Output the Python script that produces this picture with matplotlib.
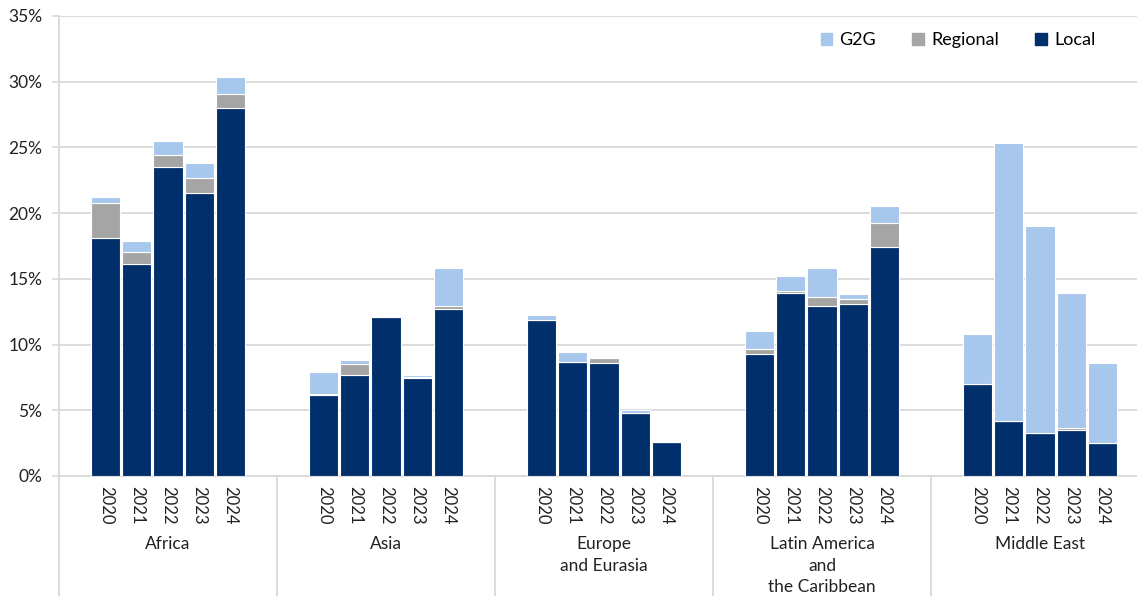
import matplotlib
matplotlib.use("Agg")
import matplotlib.pyplot as plt
from matplotlib.patches import Patch
import matplotlib.transforms as mtransforms

plt.rcParams['font.family'] = ['Lato', 'DejaVu Sans']

regions = ["Africa", "Asia", "Europe\nand Eurasia", "Latin America\nand\nthe Caribbean", "Middle East"]
years = ["2020", "2021", "2022", "2023", "2024"]

# Shares in percent, one row per region, one value per year
local = [
    [18.1, 16.1, 23.5, 21.5, 28.0],
    [6.15, 7.7, 12.1, 7.45, 12.7],
    [11.85, 8.65, 8.6, 4.8, 2.6],
    [9.3, 13.9, 12.95, 13.05, 17.4],
    [7.0, 4.2, 3.3, 3.5, 2.5],
]
regional = [
    [2.7, 0.95, 0.9, 1.2, 1.1],
    [0.1, 0.8, 0.05, 0.1, 0.25],
    [0.05, 0.0, 0.35, 0.0, 0.0],
    [0.35, 0.2, 0.65, 0.4, 1.85],
    [0.0, 0.0, 0.0, 0.15, 0.0],
]
g2g = [
    [0.4, 0.8, 1.1, 1.1, 1.25],
    [1.65, 0.3, 0.0, 0.15, 2.85],
    [0.35, 0.75, 0.1, 0.25, 0.0],
    [1.4, 1.1, 2.2, 0.4, 1.3],
    [3.8, 21.15, 15.7, 10.25, 6.1],
]

c_local = "#002F6C"
c_regional = "#A5A5A5"
c_g2g = "#A8C7EC"
c_grid = "#D9D9D9"

fig = plt.figure(figsize=(11.37, 5.96), dpi=100)
ax = fig.add_axes([59 / 1137, 120 / 596, 1090 / 1137, 460 / 596])

slots = 7
xs, xl, loc_v, reg_v, g2g_v = [], [], [], [], []
for g, region in enumerate(regions):
    for j, yr in enumerate(years):
        xs.append(g * slots + 1.5 + j)
        xl.append(yr)
        loc_v.append(local[g][j])
        reg_v.append(regional[g][j])
        g2g_v.append(g2g[g][j])

bottom2 = [a + b for a, b in zip(loc_v, reg_v)]
w = 0.94
ax.bar(xs, loc_v, width=w, color=c_local, edgecolor="white", linewidth=0.8, zorder=3)
ax.bar(xs, reg_v, width=w, bottom=loc_v, color=c_regional, edgecolor="white", linewidth=0.8, zorder=3)
ax.bar(xs, g2g_v, width=w, bottom=bottom2, color=c_g2g, edgecolor="white", linewidth=0.8, zorder=3)

ax.set_xlim(0, slots * len(regions))
ax.set_ylim(0, 35)
ax.set_yticks(range(0, 36, 5))
ax.set_yticklabels([f"{v}%" for v in range(0, 36, 5)], fontsize=12.5, color="#222222")
ax.grid(axis="y", color=c_grid, linewidth=1.3, zorder=0)
ax.set_axisbelow(True)

ax.set_xticks(xs)
ax.set_xticklabels(xl, rotation=-90, fontsize=12, color="#222222")
ax.tick_params(axis="x", length=0, pad=7)
ax.tick_params(axis="y", length=5, width=1.2, color=c_grid, pad=7)

for s in ["top", "right"]:
    ax.spines[s].set_visible(False)
ax.spines["bottom"].set_color(c_grid)
ax.spines["bottom"].set_linewidth(1.3)
ax.spines["left"].set_visible(False)

# Group dividers running from the top of the plot down past the category labels
trans = mtransforms.blended_transform_factory(ax.transData, ax.transAxes)
ax.plot([0, 0], [-0.3, 1.0], transform=trans, color=c_grid, lw=1.3, clip_on=False, zorder=1)
for g in range(1, len(regions) + 1):
    ax.plot([g * slots, g * slots], [-0.3, 0], transform=trans, color=c_grid, lw=1.3, clip_on=False)

for g, region in enumerate(regions):
    ax.text(g * slots + 3.5, -0.131, region, transform=trans, ha="center", va="top",
            fontsize=12.5, color="#222222", linespacing=1.42)

handles = [Patch(color=c_g2g), Patch(color=c_regional), Patch(color=c_local)]
fig.legend(handles, ["G2G", "Regional", "Local"], loc="center",
           bbox_to_anchor=(958 / 1137, 1 - 40 / 596), bbox_transform=fig.transFigure,
           ncol=3, frameon=False, fontsize=13, handlelength=0.65, handleheight=0.65,
           handletextpad=0.4, columnspacing=2.0)

fig.savefig("out.png", dpi=100)
